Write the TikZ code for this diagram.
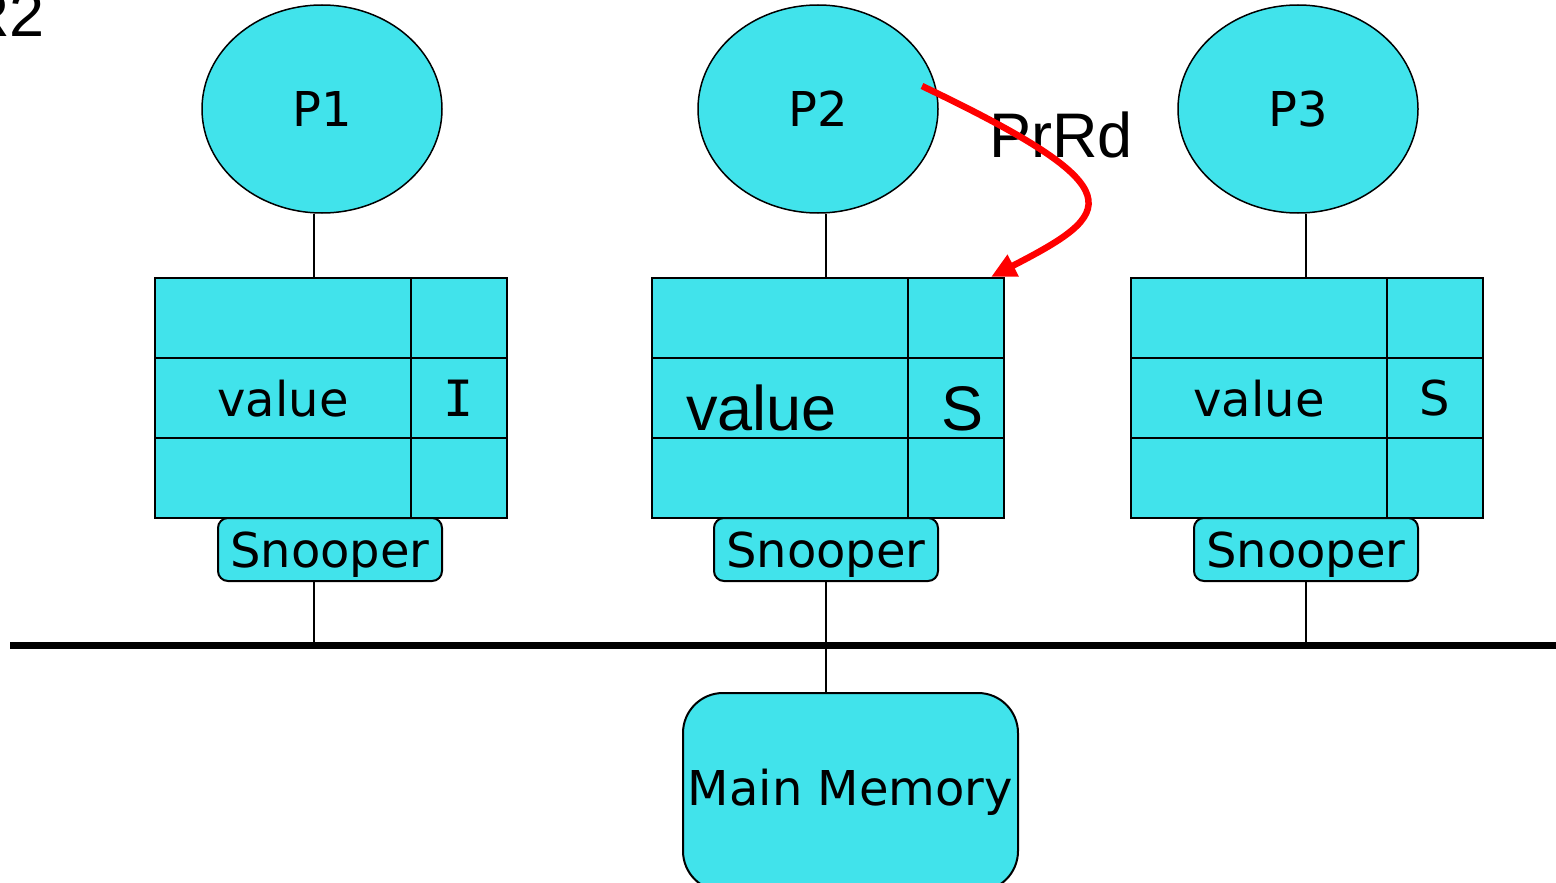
\documentclass[tikz,border=0pt]{standalone}
\usepackage{fontspec}
\setmainfont{DejaVu Sans}
\newfontfamily\arial{Liberation Sans}
\newfontfamily\serifI{DejaVu Sans Mono}
\usetikzlibrary{shapes.geometric,arrows.meta,calc}
\definecolor{cachecyan}{RGB}{65,227,235}

\begin{document}
\begin{tikzpicture}[x=1pt,y=-1pt,
  big/.style={font=\fontsize{48}{48}\selectfont},
  armd/.style={font=\arial\fontsize{63}{63}\selectfont},
  proc/.style={ellipse,draw,fill=cachecyan,line width=1.5pt,minimum width=240pt,
    minimum height=208pt,inner sep=0pt,big},
  cell/.style={draw,fill=cachecyan,line width=2pt,anchor=north west,inner sep=0pt,
    minimum height=80pt,text depth=0pt,big},
  valcell/.style={cell,minimum width=256pt},
  statecell/.style={cell,minimum width=96pt},
  snoop/.style={draw,fill=cachecyan,rounded corners=10pt,line width=2pt,
    minimum width=224pt,minimum height=63pt,inner sep=0pt,text depth=0pt,big},
  memory/.style={draw,fill=cachecyan,rounded corners=40pt,line width=2pt,
    minimum width=335pt,minimum height=198pt,inner sep=0pt,big},
  wire/.style={line width=2pt},
  bus/.style={line width=7.5pt},
  req/.style={draw=red,line width=6.5pt,-{Triangle[length=25pt,width=23pt,fill=red]}}
]
\useasboundingbox (0,0) rectangle (1556,883);
\clip (0,0) rectangle (1556,883);

% corner label
\node[armd,anchor=base east,inner sep=0pt] (title) at (45,37) {R2};

% attachment columns for the wires
\coordinate (j1) at (314,0);
\coordinate (j2) at (826,0);
\coordinate (j3) at (1306,0);
\coordinate (busL) at (10,645.5);
\coordinate (busR) at (1556,645.5);

% processors
\node[proc] (p1) at (322,109) {P1};
\node[proc] (p2) at (818,109) {P2};
\node[proc] (p3) at (1298,109) {P3};

% caches: value column and state column, three rows each
\node[valcell]   (c1v0) at (154,277) {};
\node[statecell] (c1s0) at (410,277) {};
\node[valcell]   (c1v1) at (154,357) {value};
\node[statecell] (c1s1) at (410,357) {\serifI\fontsize{50}{50}\selectfont I};
\node[valcell]   (c1v2) at (154,437) {};
\node[statecell] (c1s2) at (410,437) {};

\node[valcell]   (c2v0) at (651,277) {};
\node[statecell] (c2s0) at (907,277) {};
\node[valcell]   (c2v1) at (651,357) {};
\node[statecell] (c2s1) at (907,357) {};
\node[valcell]   (c2v2) at (651,437) {};
\node[statecell] (c2s2) at (907,437) {};
\node[armd,anchor=base west,inner sep=0pt] (c2val) at (686,430) {value};
\node[armd,anchor=base west,inner sep=0pt] (c2st) at (941,430) {S};

\node[valcell]   (c3v0) at (1130,277) {};
\node[statecell] (c3s0) at (1386,277) {};
\node[valcell]   (c3v1) at (1130,357) {value};
\node[statecell] (c3s1) at (1386,357) {S};
\node[valcell]   (c3v2) at (1130,437) {};
\node[statecell] (c3s2) at (1386,437) {};

% snoopers
\node[snoop] (s1) at (330,549.5) {Snooper};
\node[snoop] (s2) at (826,549.5) {Snooper};
\node[snoop] (s3) at (1306,549.5) {Snooper};

% main memory
\node[memory] (mem) at (850.5,792) {Main Memory};

% wires: processor to cache, snooper to bus, memory to bus
\draw[wire] (p1.south -| j1) -- (c1v0.north -| j1);
\draw[wire] (p2.south -| j2) -- (c2v0.north -| j2);
\draw[wire] (p3.south -| j3) -- (c3v0.north -| j3);
\draw[wire] (s1.south -| j1) -- (j1 |- busL);
\draw[wire] (s2.south -| j2) -- (j2 |- busL);
\draw[wire] (s3.south -| j3) -- (j3 |- busL);
\draw[wire] (mem.north -| j2) -- (j2 |- busL);

% shared bus
\draw[bus] (busL) -- (busR);

% processor read request
\node[armd,anchor=base west,inner sep=0pt] (prrd) at (989,157) {PrRd};
\coordinate (rdstart) at (922,86);
\coordinate (rdhit) at (991,277);
\draw[req] (rdstart) .. controls (1140,190) and (1115,213) .. (rdhit);
\end{tikzpicture}
\end{document}
